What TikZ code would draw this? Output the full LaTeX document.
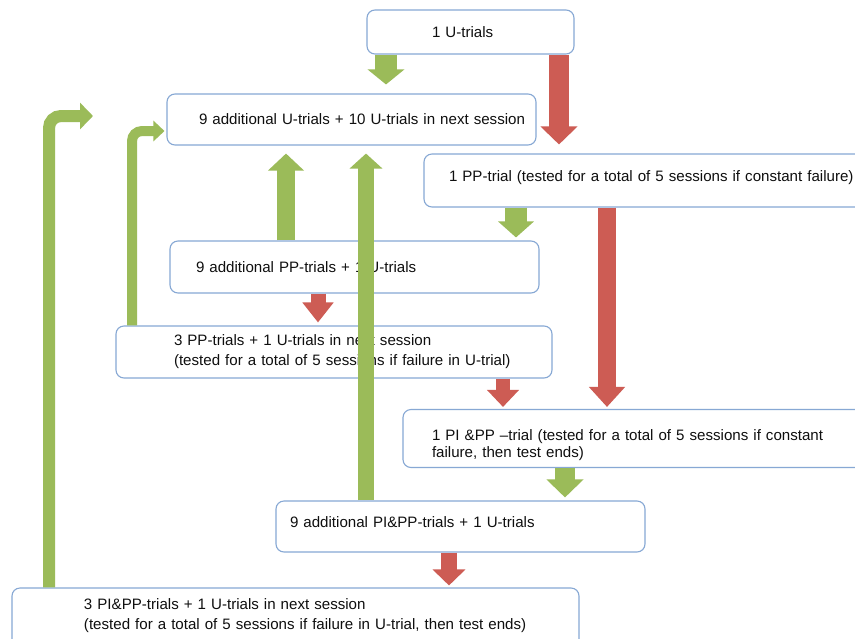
\documentclass[tikz,border=0pt]{standalone}
\usepackage{fontspec}
\setmainfont{Liberation Sans}
\usetikzlibrary{arrows.meta}
\definecolor{gA}{RGB}{155,187,89}
\definecolor{rA}{RGB}{205,92,84}
\definecolor{bd}{RGB}{135,168,212}
\definecolor{tx}{RGB}{15,15,15}
\newcommand{\ind}[1]{\hspace*{#1}}
\begin{document}
\begin{tikzpicture}[x=1pt,y=-1pt,
  box/.style={draw=bd, line width=1.1pt, rounded corners=8pt, fill=white,
    inner xsep=0pt, inner ysep=0pt, align=left, text=tx,
    font=\fontsize{15.1}{20}\selectfont},
  arr/.style n args={4}{draw=#1, line width=#2, -{Triangle[length=#3,width=#4]}}]
\useasboundingbox[fill=white] (0,0) rectangle (855,638);

\node[box, text width=207pt, minimum height=44pt] (A) at (470.5,32) {\ind{65pt}1 U-trials};
\node[box, text width=369pt, minimum height=51pt] (B) at (351.5,119.5) {\ind{32pt}9 additional U-trials + 10 U-trials in next session};
\node[box, text width=451pt, minimum height=53pt] (C) at (649.5,180.5) {\ind{25pt}1 PP-trial (tested for a total of 5 sessions if constant failure)\vspace*{5pt}};
\node[box, text width=369pt, minimum height=52pt] (D) at (354.5,267) {\ind{26pt}9 additional PP-trials + 1 U-trials};
\node[box, text width=436pt, minimum height=52pt] (E) at (334,352) {\ind{58pt}3 PP-trials + 1 U-trials in next session\\\ind{58pt}(tested for a total of 5 sessions if failure in U-trial)};
\node[box, text width=472pt, minimum height=58pt, font=\fontsize{15.1}{17}\selectfont] (F) at (639,438.5) {\ind{29pt}\rule{0pt}{24pt}1 PI \&PP –trial (tested for a total of 5 sessions if constant\\\ind{29pt}failure, then test ends)};
\node[box, text width=369pt, minimum height=51pt] (G) at (460.5,526.5) {\ind{14pt}9 additional PI\&PP-trials + 1 U-trials\vspace*{8pt}};
\node[box, text width=567pt, minimum height=62pt] (H) at (295.5,619) {\ind{72pt}3 PI\&PP-trials + 1 U-trials in next session\\\ind{72pt}(tested for a total of 5 sessions if failure in U-trial, then test ends)\vspace*{6pt}};

\coordinate (hend) at (93,116);

% straight down arrows
\draw[arr={gA}{22pt}{15pt}{36pt}] ([xshift=-84.5pt]A.south) -- ([xshift=34.5pt,yshift=9pt]B.north);
\draw[arr={rA}{20pt}{18pt}{36pt}] ([xshift=88.5pt]A.south) -- ([xshift=-90.5pt,yshift=9pt]C.north);
\draw[arr={gA}{22pt}{16pt}{35pt}] ([xshift=-133.5pt]C.south) -- ([xshift=161.5pt,yshift=3pt]D.north);
\draw[arr={rA}{18pt}{20pt}{35pt}] ([xshift=-42.5pt]C.south) -- ([xshift=-32pt,yshift=2pt]F.north);
\draw[arr={rA}{15pt}{20pt}{30pt}] ([xshift=-36.5pt]D.south) -- ([xshift=-16pt,yshift=3pt]E.north);
\draw[arr={rA}{14pt}{17pt}{31pt}] ([xshift=169pt]E.south) -- ([xshift=-136pt,yshift=2pt]F.north);
\draw[arr={gA}{20pt}{18pt}{36pt}] ([xshift=-74pt]F.south) -- ([xshift=104.5pt,yshift=3pt]G.north);
\draw[arr={rA}{16pt}{16pt}{32pt}] ([xshift=-11.5pt]G.south) -- ([xshift=153.5pt,yshift=2pt]H.north);

% up arrows
\draw[arr={gA}{18pt}{17pt}{35pt}] ([xshift=-68.5pt]D.north) -- ([xshift=-65.5pt,yshift=-8pt]B.south);
\draw[arr={gA}{16pt}{15pt}{32pt}] ([xshift=-94.5pt]G.north) -- ([xshift=14.5pt,yshift=-8pt]B.south);

% bent arrows
\draw[arr={gA}{10pt}{11pt}{20pt}, rounded corners=10pt] ([xshift=-202pt]E.north) |- ([xshift=-2pt,yshift=-11.5pt]B.west);
\draw[arr={gA}{12pt}{13pt}{26pt}, rounded corners=12pt] ([xshift=-246.5pt]H.north) |- (hend);
\end{tikzpicture}
\end{document}
